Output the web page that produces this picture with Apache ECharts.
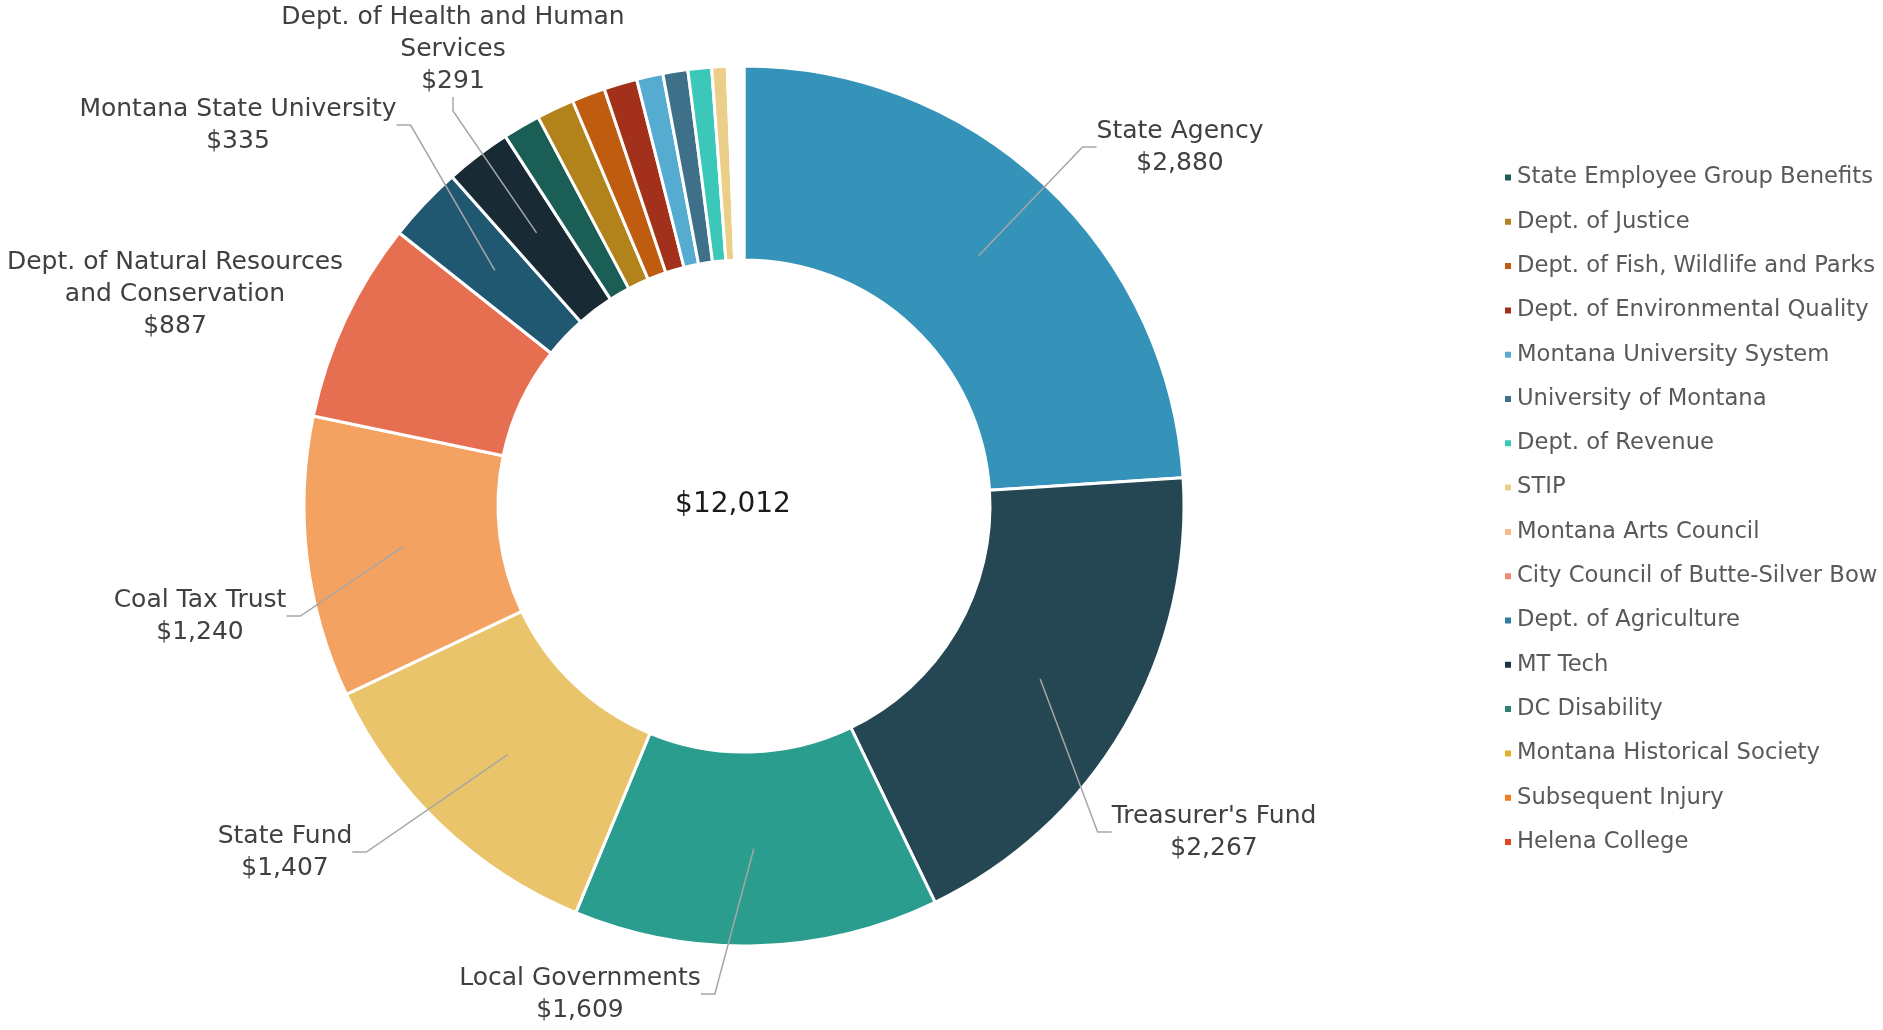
<!DOCTYPE html>
<html>
<head>
<meta charset="utf-8">
<script src="https://cdn.jsdelivr.net/npm/echarts@6/dist/echarts.min.js"></script>
<style>
  html, body { margin: 0; padding: 0; background: #fff; }
  #chart { width: 1883px; height: 1030px; }
</style>
</head>
<body>
<div id="chart"></div>
<script>
// slices, clockwise from 12 o'clock
const categories = [
  'State Agency', "Treasurer's Fund", 'Local Governments', 'State Fund', 'Coal Tax Trust',
  'Dept. of Natural Resources and Conservation', 'Montana State University',
  'Dept. of Health and Human Services',
  'State Employee Group Benefits', 'Dept. of Justice', 'Dept. of Fish, Wildlife and Parks',
  'Dept. of Environmental Quality', 'Montana University System', 'University of Montana',
  'Dept. of Revenue', 'STIP', 'Montana Arts Council', 'City Council of Butte-Silver Bow',
  'Dept. of Agriculture', 'MT Tech', 'DC Disability', 'Montana Historical Society',
  'Subsequent Injury', 'Helena College'
]
const values = [
  2880, 2267, 1609, 1407, 1240, 887, 335, 291,
  165, 166, 147, 147, 116, 110, 104, 68,
  12, 11, 10, 9, 9, 8, 7, 7
]
const colors = [
  '#3593BA', '#254653', '#2A9D8F', '#E9C46A', '#F4A261', '#E76F51', '#1F5870', '#182A33',
  '#1B5E55', '#B2831B', '#C05C10', '#A3301A', '#55ACD0', '#3E7189', '#3CC8B8', '#EBCF88',
  '#F6B98A', '#EE8A78', '#2E7C9F', '#1C3340', '#2A8475', '#E2AE2C', '#F07D22', '#E04520'
]
// only the smaller entries appear in the legend
const legendNames = categories.slice(8)

// wrapped names for the data labels
const labelNames = {
  'Dept. of Natural Resources and Conservation': 'Dept. of Natural Resources\nand Conservation',
  'Dept. of Health and Human Services': 'Dept. of Health and Human\nServices'
}
// label block centres (px), keyed by slice index
const labelPos = {
  0: [1180, 147], 1: [1214, 832], 2: [580, 994], 3: [285, 852],
  4: [200, 616], 5: [175, 294], 6: [238, 125], 7: [453, 49]
}

const FONT = '"DejaVu Sans", sans-serif'
const CX = 744, CY = 506, R_IN = 246, R_OUT = 440

const fmt = v => '$' + v.toLocaleString('en-US')
const total = values.reduce((a, b) => a + b, 0)

const chart = echarts.init(document.getElementById('chart'))

chart.setOption({
  animation: false,
  color: colors,
  legend: {
    orient: 'vertical',
    left: 1498,
    top: 160.5,
    data: legendNames,
    icon: 'rect',
    itemWidth: 8,
    itemHeight: 8,
    itemGap: 20.3,
    textStyle: { fontFamily: FONT, fontSize: 22.7, color: '#595959', lineHeight: 24 }
  },
  graphic: [{
    type: 'text',
    x: 733,
    y: 505,
    style: {
      text: fmt(total),
      fontFamily: FONT,
      fontSize: 28,
      fill: '#1a1a1a',
      align: 'center',
      verticalAlign: 'middle'
    }
  }],
  series: [
    {
      // the visible ring
      type: 'pie',
      z: 2,
      center: [CX, CY],
      radius: [R_IN, R_OUT],
      startAngle: 90,
      clockwise: true,
      silent: true,
      label: { show: false },
      labelLine: { show: false },
      itemStyle: { borderColor: '#fff', borderWidth: 3 },
      data: categories.map((c, i) => ({ name: c, value: values[i] }))
    },
    {
      // invisible pie carrying the labels, so leader lines start mid-ring
      type: 'pie',
      z: 5,
      center: [CX, CY],
      radius: [0, (R_IN + R_OUT) / 2],
      startAngle: 90,
      clockwise: true,
      silent: true,
      avoidLabelOverlap: false,
      itemStyle: { color: 'rgba(0,0,0,0)' },
      label: {
        show: true,
        position: 'outside',
        fontFamily: FONT,
        fontSize: 25,
        lineHeight: 32,
        color: '#404040',
        formatter: p => (labelNames[p.name] || p.name) + '\n' + fmt(p.value)
      },
      labelLine: {
        show: true,
        length: 20,
        length2: 14,
        lineStyle: { color: '#A6A6A6', width: 1.5 }
      },
      labelLayout: params => {
        const pos = labelPos[params.dataIndex]
        if (!pos) return {}
        return { x: pos[0], y: pos[1], align: 'center', verticalAlign: 'middle' }
      },
      data: categories.map((c, i) => ({
        name: c,
        value: values[i],
        label: { show: i < 8 },
        labelLine: { show: i < 8 && i !== 5 }
      }))
    }
  ]
})

window.addEventListener('resize', () => chart.resize())
</script>
</body>
</html>
